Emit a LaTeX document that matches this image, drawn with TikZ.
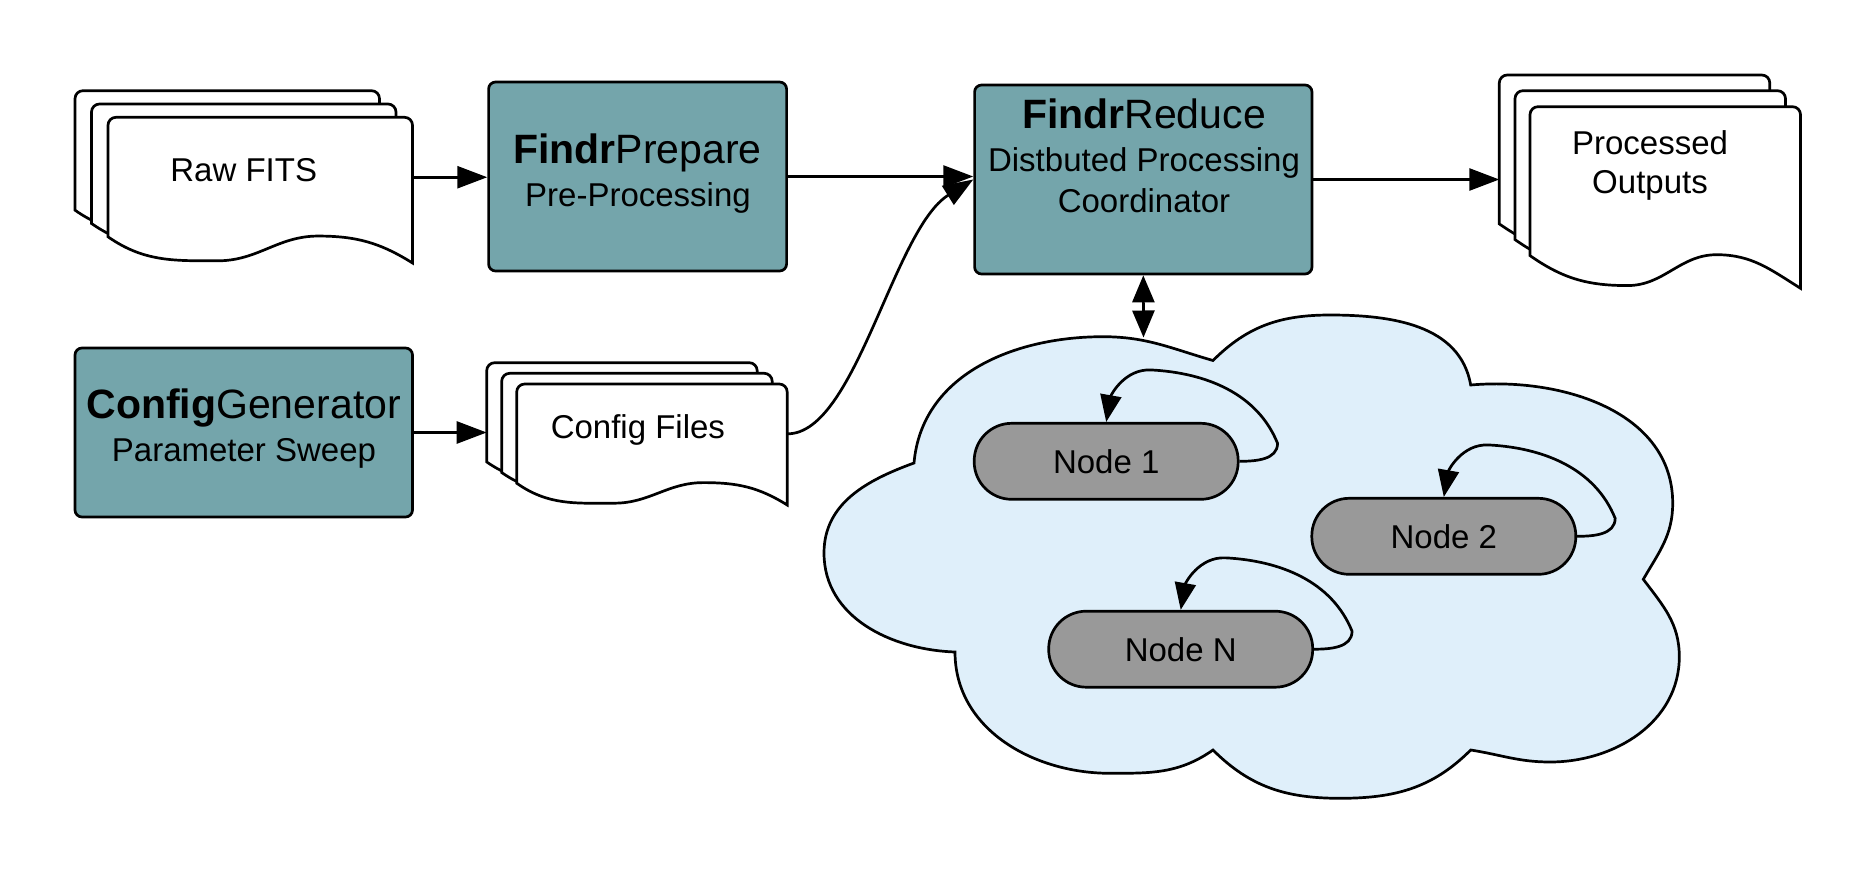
\documentclass[tikz,border=0pt]{standalone}
\usepackage{fontspec}
\setmainfont{Liberation Sans}
\usetikzlibrary{arrows.meta,calc}
\definecolor{tealbox}{HTML}{74A5AB}
\definecolor{cloudblue}{HTML}{DFEFFA}
\definecolor{nodegray}{HTML}{999999}
\newcommand\docsheet[5]{%
  \pgfmathsetmacro\dsxa{#1}%
  \pgfmathsetmacro\dsya{-(#2)}%
  \pgfmathsetmacro\dsxb{#1+#3}%
  \pgfmathsetmacro\dsyl{-(#2+0.82*#4)}%
  \pgfmathsetmacro\dsxt{#1+0.36*#3}%
  \pgfmathsetmacro\dsyt{-(#2+0.985*#4)}%
  \pgfmathsetmacro\dsxc{#1+0.69*#3}%
  \pgfmathsetmacro\dsyc{-(#2+0.815*#4)}%
  \pgfmathsetmacro\dsyr{-(#2+#4)}%
  \pgfmathsetmacro\dsh{0.82*#4}%
  \draw[docline] (\dsxb,\dsyr) to[out=148,in=0] (\dsxc,\dsyc) to[out=180,in=0] (\dsxt,\dsyt) to[out=180,in=-35] (\dsxa,\dsyl) -- (\dsxa,\dsya-8) arc[start angle=180,end angle=90,radius=8] -- (\dsxb-8,\dsya) arc[start angle=90,end angle=0,radius=8] -- cycle;
  \node[inner sep=0pt, minimum width=#3pt, minimum height=\dsh pt, anchor=north west] (#5) at (\dsxa,\dsya) {};
}
\begin{document}
\begin{tikzpicture}[x=1pt,y=1pt,
  procbox/.style={draw=black, fill=tealbox, line width=2.7pt, rounded corners=7pt, inner sep=0pt},
  docline/.style={draw=black, fill=white, line width=2.7pt},
  txt/.style={font=\fontsize{33pt}{40pt}\selectfont, inner sep=0pt},
  ttl/.style={font=\fontsize{41pt}{48pt}\selectfont, inner sep=0pt},
  worker/.style={draw=black, fill=nodegray, line width=2.7pt, rounded corners=37.5pt, inner sep=0pt, minimum width=264pt, minimum height=76pt, font=\fontsize{33pt}{40pt}\selectfont},
  arr/.style={line width=2.7pt, -{Triangle[length=30pt,width=22pt]}},
  looparr/.style={line width=2.7pt, -{Triangle[length=27pt,width=21pt]}},
  dblarr/.style={line width=2.7pt, {Triangle[length=27pt,width=22pt]}-{Triangle[length=27pt,width=22pt]}},
  cloudsty/.style={draw=black, fill=cloudblue, line width=2.7pt}
]
\fill[white] (0,0) rectangle (1875,-889);
\useasboundingbox (0,0) rectangle (1875,-889);

% process boxes
\node[procbox, minimum width=298pt, minimum height=189pt] (fp) at (637.6,-176.5) {};
\node[procbox, minimum width=337.5pt, minimum height=169pt] (cg) at (243.75,-432.5) {};
\node[procbox, minimum width=337.4pt, minimum height=189pt] (fr) at (1143.3,-179.5) {};
\node[ttl, anchor=base] (fpA) at (637.6,-163.3) {{\bfseries Findr}Prepare};
\node[txt, anchor=base] (fpB) at (638,-206.7) {Pre-Processing};
\node[ttl, anchor=base] (cgA) at (243.7,-418.3) {{\bfseries Config}Generator};
\node[txt, anchor=base] (cgB) at (244,-461.7) {Parameter Sweep};
\node[ttl, anchor=base] (frA) at (1144,-128.3) {{\bfseries Findr}Reduce};
\node[txt, anchor=base] (frB) at (1144,-171.7) {Distbuted Processing};
\node[txt, anchor=base] (frC) at (1144,-212.3) {Coordinator};

% document stacks
\docsheet{75}{90.7}{304.5}{145.7}{rawback}
\docsheet{91.5}{104}{304.5}{145.7}{rawmid}
\docsheet{108}{117.3}{304.5}{145.7}{rawdoc}
\node[txt, anchor=base] (rawT) at (243.7,-181.7) {Raw FITS};

\docsheet{486.7}{362.7}{270.5}{121}{cfgback}
\docsheet{501.7}{373.3}{270.5}{121}{cfgmid}
\docsheet{516.7}{384}{270.5}{121}{cfgdoc}
\node[txt, anchor=base] (cfgT) at (637.9,-438) {Config Files};

\docsheet{1499.3}{75}{270.5}{181.6}{outback}
\docsheet{1515}{90.7}{270.5}{181.6}{outmid}
\docsheet{1530}{106.7}{270.5}{181.6}{outdoc}
\node[txt, anchor=base] (outA) at (1650,-154.5) {Processed};
\node[txt, anchor=base] (outB) at (1650,-193.5) {Outputs};

% cloud
\draw[cloudsty] (914,-463)
  to[out=85,in=180] (1103,-336.7)
  to[out=0,in=164] (1213,-360.5)
  to[out=45,in=180] (1330,-315)
  to[out=0,in=100] (1470.7,-385)
  to[out=5,in=90] (1672.7,-503.3)
  to[out=-90,in=60] (1643.3,-579.3)
  to[out=-53,in=90] (1679.3,-656.7)
  to[out=-90,in=0] (1550,-762)
  to[out=180,in=-9] (1470.7,-750)
  to[out=-135,in=0] (1340,-798.3)
  to[out=180,in=-45] (1213,-750)
  to[out=-145,in=0] (1110,-773.3)
  to[out=180,in=-90] (955,-652)
  to[out=178,in=-90] (824,-553)
  to[out=90,in=-160] (914,-463) -- cycle;
\coordinate (cloudtop) at (1143.5,-337.5);

% worker nodes
\node[worker] (n1) at (1106.2,-461.3) {Node 1};
\node[worker] (n2) at (1443.8,-536.3) {Node 2};
\node[worker] (nN) at (1180.7,-649.2) {Node N};

\foreach \nd in {n1,n2,nN}{
  \draw[looparr] (\nd.east) to[out=0,in=-90] ($(\nd.east)+(38,18)$)
    to[out=112,in=-3,looseness=0.95] ($(\nd.north)+(45,52)$)
    to[out=177,in=80] (\nd.north);
}

% connectors
\draw[arr] (rawdoc.east) -- (rawdoc.east -| fp.west);
\draw[arr] (fp.east) -- (fp.east -| fr.west);
\draw[arr] (cg.east) -- (cg.east -| cfgback.west);
\draw[arr] (cfgdoc.east) .. controls +(68,0) and +(-80,-50) .. (fr.west);
\draw[arr] (fr.east) -- (fr.east -| outback.west);
\draw[dblarr] (fr.south) -- (cloudtop);
\end{tikzpicture}
\end{document}
